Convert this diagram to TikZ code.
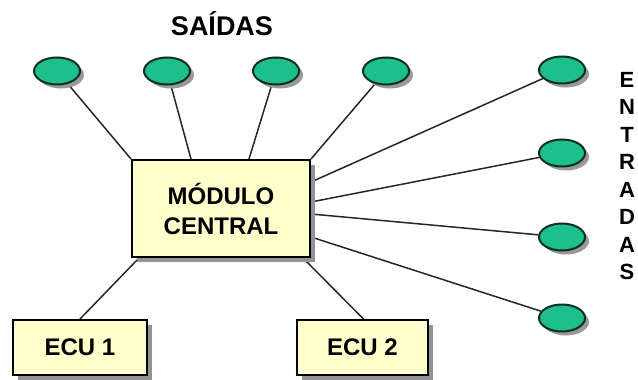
\documentclass[tikz,border=0pt]{standalone}
\usepackage{fontspec}
\setmainfont{Liberation Sans}
\usepackage{xcolor}
\usetikzlibrary{shapes.geometric,shadows,backgrounds}

\definecolor{boxfill}{HTML}{FFFFCC}
\definecolor{sensor}{HTML}{1DBF8C}
\definecolor{sensorline}{HTML}{0B2E20}

\begin{document}
\begin{tikzpicture}[
    x=1pt, y=-1pt,
    box/.style={rectangle, draw, line width=2pt, fill=boxfill, align=center,
        font=\fontsize{24}{30}\selectfont\bfseries,
        drop shadow={shadow xshift=5pt, shadow yshift=-5pt, fill=gray!85, opacity=1}},
    sensor/.style={ellipse, draw=sensorline, line width=2pt, fill=sensor, inner sep=0pt,
        minimum width=46pt, minimum height=27pt,
        drop shadow={shadow xshift=4pt, shadow yshift=-4pt, fill=gray!80, opacity=1}},
    link/.style={line width=1.5pt, black!85}
]
    \useasboundingbox (0,0) rectangle (638,380);

    \node[box, minimum width=178pt, minimum height=97pt] (central) at (221,208.5) {MÓDULO\\CENTRAL};
    \node[box, minimum width=134pt, minimum height=55pt] (ecu1) at (80,347.5) {ECU 1};
    \node[box, minimum width=131pt, minimum height=55pt] (ecu2) at (362.5,347.5) {ECU 2};

    % saidas
    \node[sensor] (out1) at (57,71) {};
    \node[sensor] (out2) at (167,71) {};
    \node[sensor] (out3) at (276,71) {};
    \node[sensor] (out4) at (386,71) {};

    % entradas
    \node[sensor] (in1) at (562,70) {};
    \node[sensor] (in2) at (562,153) {};
    \node[sensor] (in3) at (562,237) {};
    \node[sensor] (in4) at (562,318) {};

    \node[font=\fontsize{27}{30}\selectfont\bfseries] (saidas) at (222,24) {SAÍDAS};
    \node[font=\fontsize{22}{27.5}\selectfont\bfseries, align=center, inner sep=0pt] (entradas) at (627,176)
        {E\\N\\T\\R\\A\\D\\A\\S};

    \begin{scope}[on background layer]
        \draw[link] (out1) -- (central.north west);
        \draw[link] (out2) -- ([xshift=60pt]central.north west);
        \draw[link] (out3) -- ([xshift=118pt]central.north west);
        \draw[link] (out4) -- (central.north east);
        \draw[link] (in1) -- ([yshift=-23pt]central.north east);
        \draw[link] (in2) -- ([yshift=-43pt]central.north east);
        \draw[link] (in3) -- ([yshift=-55pt]central.north east);
        \draw[link] (in4) -- ([yshift=-78pt]central.north east);
        \draw[link] ([xshift=8pt]central.south west) -- (ecu1.north);
        \draw[link] ([xshift=-8pt]central.south east) -- ([xshift=1pt]ecu2.north);
    \end{scope}
\end{tikzpicture}
\end{document}
